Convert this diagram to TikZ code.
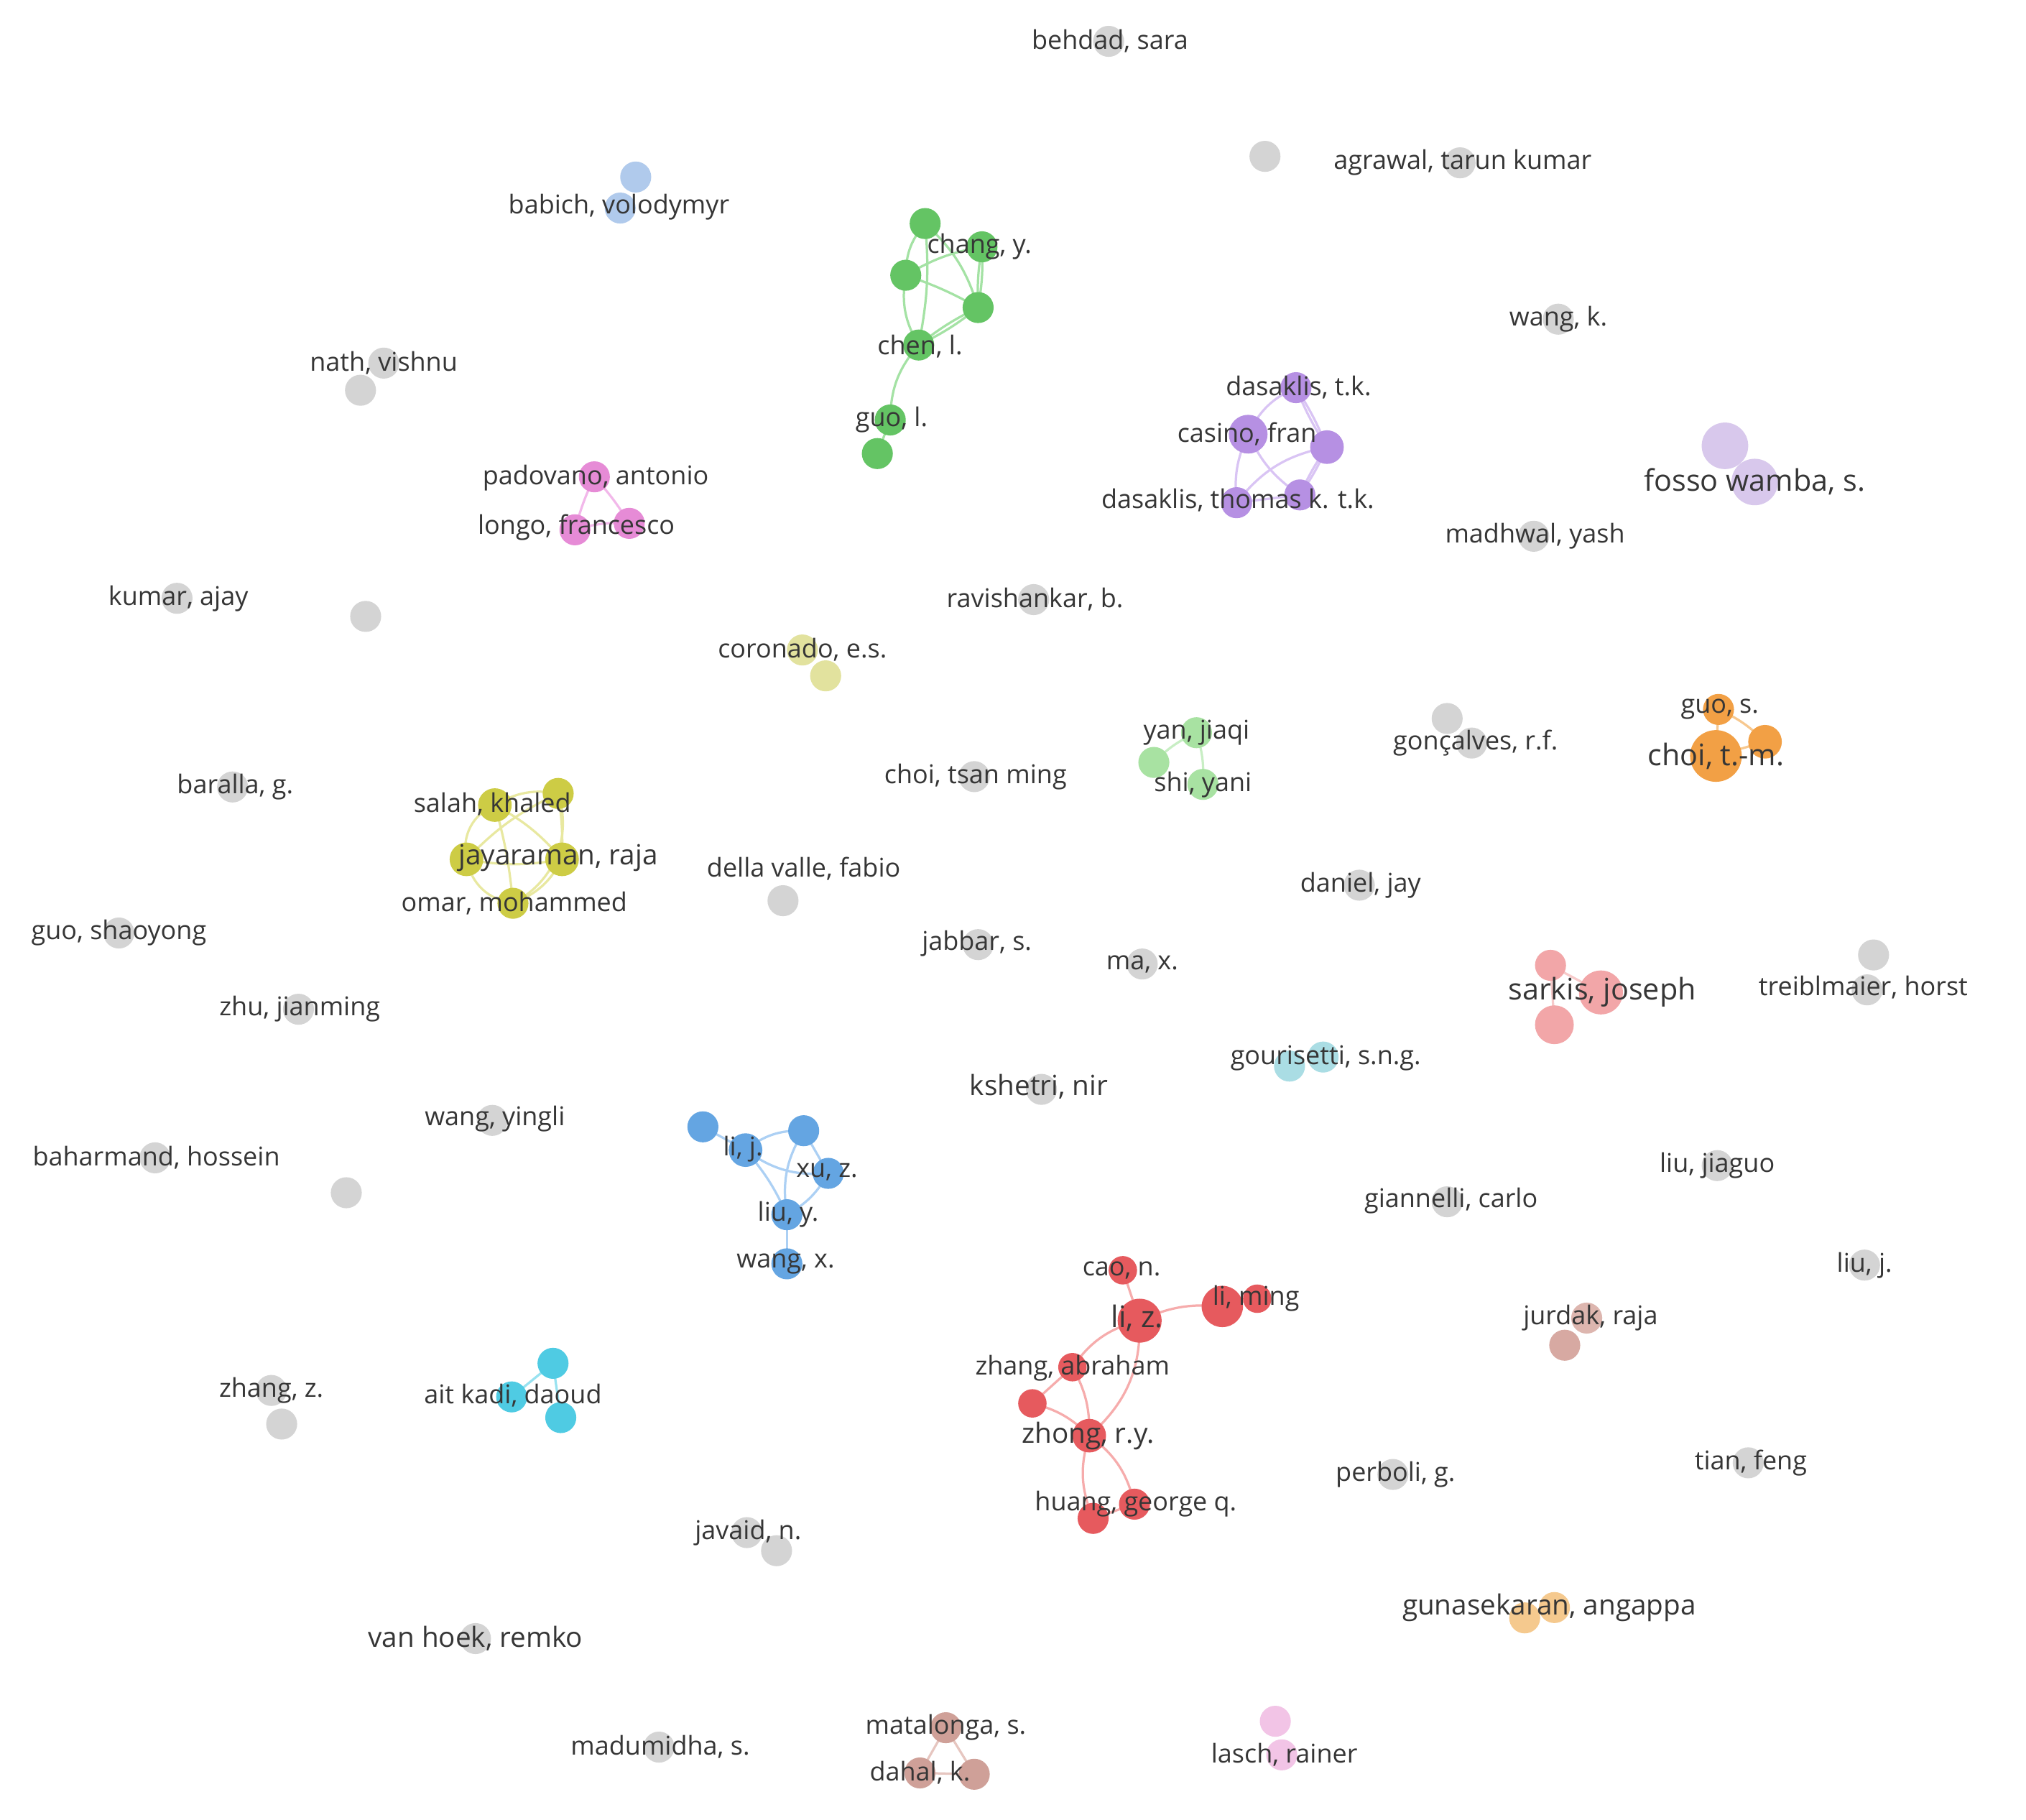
\documentclass[tikz,border=0pt]{standalone}
\usepackage{fontspec}
\setmainfont{Open Sans}
\pgfdeclarelayer{edges}
\pgfdeclarelayer{bg}
\pgfsetlayers{bg,edges,main}
\definecolor{labc}{HTML}{363636}
\definecolor{gry}{HTML}{D4D4D4}
\definecolor{grn}{HTML}{64C464}
\definecolor{grnE}{HTML}{A4E2A4}
\definecolor{pur}{HTML}{B690E3}
\definecolor{purE}{HTML}{D9C4F4}
\definecolor{fos}{HTML}{D8C8EC}
\definecolor{pnk}{HTML}{E68BD6}
\definecolor{pnkE}{HTML}{F2B8EA}
\definecolor{cor}{HTML}{E2E29E}
\definecolor{lgr}{HTML}{A8E2A2}
\definecolor{lgrE}{HTML}{C8EEC4}
\definecolor{org}{HTML}{F2A045}
\definecolor{orgE}{HTML}{F7C88F}
\definecolor{yel}{HTML}{CDCC45}
\definecolor{yelE}{HTML}{E8E8A0}
\definecolor{sar}{HTML}{F2A6A8}
\definecolor{sarE}{HTML}{F7CACA}
\definecolor{gou}{HTML}{AADDE4}
\definecolor{blu}{HTML}{64A5E2}
\definecolor{bluE}{HTML}{ACD0F4}
\definecolor{red}{HTML}{E65A5E}
\definecolor{redE}{HTML}{F6ACAC}
\definecolor{jur}{HTML}{DDB6AF}
\definecolor{jur2}{HTML}{D7A9A2}
\definecolor{ait}{HTML}{4FCBE3}
\definecolor{aitE}{HTML}{98E2F0}
\definecolor{gun}{HTML}{F5C98E}
\definecolor{mat}{HTML}{CFA098}
\definecolor{matE}{HTML}{E6C6C0}
\definecolor{las}{HTML}{F2C4E6}
\definecolor{bab}{HTML}{B0CAEC}
\tikzset{
  dot/.style={circle, inner sep=0pt, minimum size=24pt, draw=none, fill=gry},
  lab/.style={font=\fontsize{20}{22}\selectfont, text=labc, inner sep=0pt},
  midlab/.style={font=\fontsize{21.5}{24}\selectfont, text=labc, inner sep=0pt},
  biglab/.style={font=\fontsize{23}{26}\selectfont, text=labc, inner sep=0pt},
  edge/.style={line width=1.8pt},
}
\begin{document}
\begin{tikzpicture}[x=1pt,y=-1pt]
\begin{pgfonlayer}{bg}
\fill[white] (0,0) rectangle (1568,1408);
\end{pgfonlayer}
\useasboundingbox (0,0) rectangle (1568,1408);

% ---------- grey singles ----------
\node[dot] (behdad) at (858,32) {};
\node[dot] (lone1) at (979,121) {};
\node[dot] (agrawal) at (1130,126) {};
\node[dot] (wangk) at (1206,247) {};
\node[dot] (nath1) at (297,281) {};
\node[dot] (nath2) at (279,302) {};
\node[dot] (madhwal) at (1187,415) {};
\node[dot] (kumar) at (137,463) {};
\node[dot] (lone2) at (283,477) {};
\node[dot] (ravi) at (800,464) {};
\node[dot] (gonc1) at (1120,556) {};
\node[dot] (gonc2) at (1139,575) {};
\node[dot] (baralla) at (180,609) {};
\node[dot] (choits) at (754,601) {};
\node[dot] (della) at (606,697) {};
\node[dot] (daniel) at (1052,685) {};
\node[dot] (guosh) at (92,722) {};
\node[dot] (jabbar) at (757,731) {};
\node[dot] (max) at (884,746) {};
\node[dot] (treib1) at (1450,739) {};
\node[dot] (treib2) at (1445,766) {};
\node[dot] (zhuj) at (231,781) {};
\node[dot] (kshetri) at (806,843) {};
\node[dot] (wangy) at (381,867) {};
\node[dot] (bahar) at (120,896) {};
\node[dot] (lone3) at (268,923) {};
\node[dot] (liujg) at (1329,902) {};
\node[dot] (gian) at (1120,930) {};
\node[dot] (liuj) at (1443,979) {};
\node[dot] (zhangz1) at (210,1076) {};
\node[dot] (zhangz2) at (218,1102) {};
\node[dot] (perboli) at (1078,1141) {};
\node[dot] (tian) at (1353,1132) {};
\node[dot] (javaid1) at (578,1186) {};
\node[dot] (javaid2) at (601,1200) {};
\node[dot] (vanhoek) at (368,1268) {};
\node[dot] (madu) at (510,1352) {};

% ---------- small coloured pairs ----------
\node[dot, fill=bab] (bab1) at (492,137) {};
\node[dot, fill=bab] (bab2) at (480,161) {};
\node[dot, fill=fos, minimum size=36pt] (fos1) at (1335,345) {};
\node[dot, fill=fos, minimum size=36pt] (fos2) at (1358,373) {};
\node[dot, fill=cor] (cor1) at (621,503) {};
\node[dot, fill=cor] (cor2) at (639,523) {};
\node[dot, fill=gou] (gou1) at (998,825) {};
\node[dot, fill=gou] (gou2) at (1024,818) {};
\node[dot, fill=jur] (jur1) at (1228,1020) {};
\node[dot, fill=jur2] (jur2) at (1211,1041) {};
\node[dot, fill=gun] (gun1) at (1203,1244) {};
\node[dot, fill=gun] (gun2) at (1180,1252) {};
\node[dot, fill=las] (las1) at (987,1332) {};
\node[dot, fill=las] (las2) at (992,1358) {};

% ---------- green cluster ----------
\node[dot, fill=grn] (g1) at (716,173) {};
\node[dot, fill=grn] (g2) at (760,191) {};
\node[dot, fill=grn] (g3) at (701,213) {};
\node[dot, fill=grn] (g4) at (757,238) {};
\node[dot, fill=grn] (g5) at (711,267) {};
\node[dot, fill=grn] (g6) at (689,325) {};
\node[dot, fill=grn] (g7) at (679,351) {};

% ---------- purple cluster ----------
\node[dot, fill=pur] (p1) at (1003,300) {};
\node[dot, fill=pur, minimum size=30pt] (p2) at (966,336) {};
\node[dot, fill=pur, minimum size=26pt] (p3) at (1027,346) {};
\node[dot, fill=pur] (p4) at (957,389) {};
\node[dot, fill=pur] (p5) at (1006,383) {};

% ---------- pink (padovano) ----------
\node[dot, fill=pnk] (pa1) at (460,369) {};
\node[dot, fill=pnk] (pa2) at (487,405) {};
\node[dot, fill=pnk] (pa3) at (445,410) {};

% ---------- light green ----------
\node[dot, fill=lgr] (lg1) at (926,567) {};
\node[dot, fill=lgr] (lg2) at (893,590) {};
\node[dot, fill=lgr] (lg3) at (931,607) {};

% ---------- orange ----------
\node[dot, fill=org] (o1) at (1330,549) {};
\node[dot, fill=org, minimum size=40pt] (o2) at (1328,585) {};
\node[dot, fill=org, minimum size=26pt] (o3) at (1366,574) {};

% ---------- yellow cluster ----------
\node[dot, fill=yel, minimum size=26pt] (y1) at (383,623) {};
\node[dot, fill=yel] (y2) at (432,614) {};
\node[dot, fill=yel, minimum size=26pt] (y3) at (361,665) {};
\node[dot, fill=yel, minimum size=26pt] (y4) at (435,665) {};
\node[dot, fill=yel] (y5) at (397,699) {};

% ---------- sarkis ----------
\node[dot, fill=sar] (s1) at (1200,747) {};
\node[dot, fill=sar, minimum size=34pt] (s2) at (1239,768) {};
\node[dot, fill=sar, minimum size=30pt] (s3) at (1203,793) {};

% ---------- blue cluster ----------
\node[dot, fill=blu] (b1) at (544,872) {};
\node[dot, fill=blu, minimum size=26pt] (b2) at (577,890) {};
\node[dot, fill=blu] (b3) at (622,875) {};
\node[dot, fill=blu] (b4) at (641,908) {};
\node[dot, fill=blu] (b5) at (609,940) {};
\node[dot, fill=blu] (b6) at (609,978) {};

% ---------- red cluster ----------
\node[dot, fill=red, minimum size=22pt] (r1) at (869,983) {};
\node[dot, fill=red, minimum size=34pt] (r2) at (882,1022) {};
\node[dot, fill=red, minimum size=32pt] (r3) at (946,1011) {};
\node[dot, fill=red, minimum size=22pt] (r4) at (973,1005) {};
\node[dot, fill=red, minimum size=22pt] (r5) at (830,1058) {};
\node[dot, fill=red, minimum size=22pt] (r6) at (799,1086) {};
\node[dot, fill=red, minimum size=26pt] (r7) at (843,1111) {};
\node[dot, fill=red] (r8) at (878,1164) {};
\node[dot, fill=red] (r9) at (846,1175) {};

% ---------- ait kadi ----------
\node[dot, fill=ait] (a1) at (428,1055) {};
\node[dot, fill=ait] (a2) at (396,1081) {};
\node[dot, fill=ait] (a3) at (434,1097) {};

% ---------- matalonga ----------
\node[dot, fill=mat] (m1) at (732,1337) {};
\node[dot, fill=mat] (m2) at (712,1372) {};
\node[dot, fill=mat] (m3) at (754,1373) {};

% ---------- connectors (behind circles) ----------
\begin{pgfonlayer}{edges}
% green
\draw[edge, grnE] (g1.center) to[bend right=20] (g3.center);
\draw[edge, grnE] (g1.center) to[bend left=8] (g5.center);
\draw[edge, grnE] (g1.center) to[bend left=15] (g4.center);
\draw[edge, grnE] (g3.center) to[bend left=10] (g2.center);
\draw[edge, grnE] (g3.center) to[bend left=5] (g4.center);
\draw[edge, grnE] (g3.center) to[bend right=20] (g5.center);
\draw[edge, grnE] (g2.center) to[bend left=6] (g4.center);
\draw[edge, grnE] (g2.center) to[bend right=6] (g4.center);
\draw[edge, grnE] (g4.center) to[bend left=6] (g5.center);
\draw[edge, grnE] (g4.center) to[bend right=6] (g5.center);
\draw[edge, grnE] (g5.center) to[bend right=20] (g6.center);
\draw[edge, grnE] (g6.center) -- (g7.center);
% purple
\draw[edge, purE] (p2.center) to[bend left=20] (p1.center);
\draw[edge, purE] (p1.center) to[bend left=5] (p3.center);
\draw[edge, purE] (p1.center) to[bend right=5] (p3.center);
\draw[edge, purE] (p2.center) to[bend right=15] (p4.center);
\draw[edge, purE] (p2.center) to[bend right=15] (p5.center);
\draw[edge, purE] (p4.center) to[bend left=20] (p3.center);
\draw[edge, purE] (p3.center) to[bend left=5] (p5.center);
\draw[edge, purE] (p3.center) to[bend right=5] (p5.center);
\draw[edge, purE] (p4.center) -- (p5.center);
% pink
\draw[edge, pnkE] (pa1.center) to[bend left=5] (pa2.center);
\draw[edge, pnkE] (pa1.center) to[bend right=5] (pa3.center);
\draw[edge, pnkE] (pa3.center) to[bend left=10] (pa2.center);
% light green
\draw[edge, lgrE] (lg1.center) to[bend right=10] (lg2.center);
\draw[edge, lgrE] (lg1.center) to[bend left=10] (lg3.center);
% orange
\draw[edge, orgE] (o1.center) to[bend left=10] (o3.center);
\draw[edge, orgE] (o1.center) -- (o2.center);
\draw[edge, orgE] (o2.center) -- (o3.center);
% yellow
\draw[edge, yelE] (y1.center) to[bend left=20] (y2.center);
\draw[edge, yelE] (y1.center) to[bend right=40] (y3.center);
\draw[edge, yelE] (y1.center) to[bend left=10] (y4.center);
\draw[edge, yelE] (y1.center) to[bend left=5] (y5.center);
\draw[edge, yelE] (y2.center) to[bend right=10] (y3.center);
\draw[edge, yelE] (y2.center) to[bend left=5] (y4.center);
\draw[edge, yelE] (y2.center) to[bend left=40] (y5.center);
\draw[edge, yelE] (y3.center) to[bend right=10] (y4.center);
\draw[edge, yelE] (y3.center) to[bend right=35] (y5.center);
\draw[edge, yelE] (y4.center) to[bend left=20] (y5.center);
% sarkis
\draw[edge, sarE] (s1.center) -- (s2.center);
\draw[edge, sarE] (s1.center) -- (s3.center);
% blue
\draw[edge, bluE] (b1.center) -- (b2.center);
\draw[edge, bluE] (b2.center) to[bend left=20] (b3.center);
\draw[edge, bluE] (b2.center) to[bend right=20] (b4.center);
\draw[edge, bluE] (b2.center) to[bend left=8] (b5.center);
\draw[edge, bluE] (b3.center) to[bend right=20] (b5.center);
\draw[edge, bluE] (b3.center) -- (b4.center);
\draw[edge, bluE] (b4.center) to[bend left=15] (b5.center);
\draw[edge, bluE] (b5.center) -- (b6.center);
% red
\draw[edge, redE] (r1.center) -- (r2.center);
\draw[edge, redE] (r2.center) to[bend left=15] (r3.center);
\draw[edge, redE] (r3.center) -- (r4.center);
\draw[edge, redE] (r2.center) to[bend right=20] (r5.center);
\draw[edge, redE] (r2.center) to[bend left=25] (r7.center);
\draw[edge, redE] (r5.center) -- (r6.center);
\draw[edge, redE] (r5.center) to[bend left=15] (r7.center);
\draw[edge, redE] (r6.center) to[bend left=15] (r7.center);
\draw[edge, redE] (r7.center) to[bend right=20] (r9.center);
\draw[edge, redE] (r7.center) to[bend left=20] (r8.center);
\draw[edge, redE] (r9.center) -- (r8.center);
% ait kadi
\draw[edge, aitE] (a2.center) -- (a1.center);
\draw[edge, aitE] (a1.center) -- (a3.center);
% matalonga
\draw[edge, matE] (m1.center) -- (m2.center);
\draw[edge, matE] (m1.center) -- (m3.center);
\draw[edge, matE] (m2.center) -- (m3.center);
\end{pgfonlayer}

% ---------- labels ----------
\node[lab] (Lbehdad) at (859,32) {behdad, sara};
\node[lab] (Lagrawal) at (1132,126) {agrawal, tarun kumar};
\node[lab] (Lbabich) at (479,160) {babich, volodymyr};
\node[lab] (Lchang) at (758,191) {chang, y.};
\node[lab] (Lwangk) at (1206,247) {wang, k.};
\node[lab] (Lchen) at (712,268) {chen, l.};
\node[lab] (Lnath) at (297,281) {nath, vishnu};
\node[lab] (Ldas1) at (1005,300) {dasaklis, t.k.};
\node[lab] (Lguol) at (690,325) {guo, l.};
\node[lab] (Lcasino) at (965,336) {casino, fran};
\node[biglab] (Lfosso) at (1358,373) {fosso wamba, s.};
\node[lab] (Lpado) at (461,370) {padovano, antonio};
\node[lab] (Ldas2) at (958,387) {dasaklis, thomas k. t.k.};
\node[lab] (Llongo) at (446,408) {longo, francesco};
\node[lab] (Lmadh) at (1188,415) {madhwal, yash};
\node[lab] (Lkumar) at (138,463) {kumar, ajay};
\node[lab] (Lravi) at (801,464) {ravishankar, b.};
\node[lab] (Lcoro) at (621,503) {coronado, e.s.};
\node[lab] (Lguos) at (1331,549) {guo, s.};
\node[lab] (Lyan) at (926,567) {yan, jiaqi};
\node[lab] (Lgonc) at (1142,575) {gonçalves, r.f.};
\node[biglab] (Lchoi) at (1328,585) {choi, t.-m.};
\node[lab] (Lbaralla) at (182,609) {baralla, g.};
\node[lab] (Lchoits) at (755,601) {choi, tsan ming};
\node[lab] (Lshi) at (931,607) {shi, yani};
\node[lab] (Lsalah) at (381,622) {salah, khaled};
\node[midlab] (Ljaya) at (432,664) {jayaraman, raja};
\node[lab] (Ldella) at (622,672) {della valle, fabio};
\node[lab] (Ldaniel) at (1053,685) {daniel, jay};
\node[lab] (Lomar) at (398,699) {omar, mohammed};
\node[lab] (Lguoshy) at (92,722) {guo, shaoyong};
\node[lab] (Ljabbar) at (756,730) {jabbar, s.};
\node[lab] (Lmax) at (884,746) {ma, x.};
\node[biglab] (Lsarkis) at (1240,768) {sarkis, joseph};
\node[lab] (Ltreib) at (1442,764) {treiblmaier, horst};
\node[lab] (Lzhuj) at (232,781) {zhu, jianming};
\node[lab] (Lgou) at (1026,819) {gourisetti, s.n.g.};
\node[midlab] (Lkshetri) at (804,841) {kshetri, nir};
\node[lab] (Lwangy) at (383,866) {wang, yingli};
\node[lab] (Llij) at (575,889) {li, j.};
\node[lab] (Lbahar) at (121,896) {baharmand, hossein};
\node[lab] (Lliujg) at (1329,902) {liu, jiaguo};
\node[lab] (Lxu) at (640,907) {xu, z.};
\node[lab] (Lgian) at (1123,929) {giannelli, carlo};
\node[lab] (Lliuy) at (610,940) {liu, y.};
\node[lab] (Lwangx) at (608,978) {wang, x.};
\node[lab] (Lliuj) at (1443,979) {liu, j.};
\node[lab] (Lcao) at (868,983) {cao, n.};
\node[lab] (Llim) at (972,1005) {li, ming};
\node[biglab] (Lliz) at (880,1020) {li, z.};
\node[lab] (Ljurdak) at (1231,1020) {jurdak, raja};
\node[lab] (Lzhanga) at (830,1059) {zhang, abraham};
\node[lab] (Lzhangz) at (210,1076) {zhang, z.};
\node[lab] (Lait) at (397,1080) {ait kadi, daoud};
\node[midlab] (Lzhong) at (842,1111) {zhong, r.y.};
\node[lab] (Ltian) at (1355,1132) {tian, feng};
\node[lab] (Lperboli) at (1080,1141) {perboli, g.};
\node[lab] (Lhuang) at (879,1164) {huang, george q.};
\node[lab] (Ljavaid) at (579,1186) {javaid, n.};
\node[midlab] (Lgun) at (1199,1244) {gunasekaran, angappa};
\node[midlab] (Lvanhoek) at (368,1268) {van hoek, remko};
\node[lab] (Lmat) at (732,1337) {matalonga, s.};
\node[lab] (Lmadu) at (511,1352) {madumidha, s.};
\node[lab] (Lasch) at (994,1358) {lasch, rainer};
\node[lab] (Ldahal) at (712,1372) {dahal, k.};
\end{tikzpicture}
\end{document}
